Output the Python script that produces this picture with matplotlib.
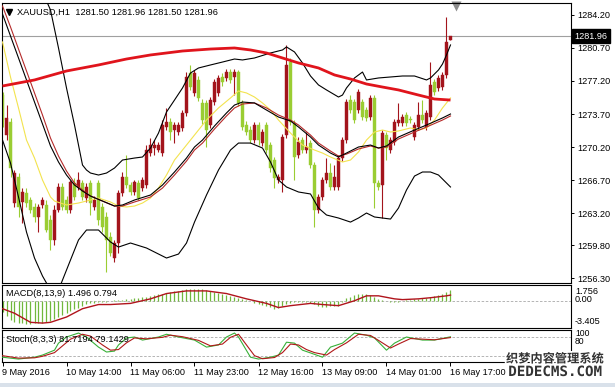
import matplotlib
matplotlib.use('Agg')
import matplotlib.pyplot as plt
import matplotlib.patheffects as pe
from matplotlib.patches import Rectangle
from matplotlib.transforms import blended_transform_factory
import numpy as np

plt.rcParams['font.family'] = ['Liberation Sans', 'DejaVu Sans']

# ---------------- data ----------------
title_text = "XAUUSD,H1  1281.50 1281.96 1281.50 1281.96"
macd_text = "MACD(8,13,9) 1.496 0.794"
stoch_text = "Stoch(8,3,3) 81.7194 79.1429"
date_labels = ["9 May 2016", "10 May 14:00", "11 May 06:00", "11 May 23:00",
               "12 May 16:00", "13 May 09:00", "14 May 01:00", "16 May 17:00"]
date_bars = [0, 16, 32, 48, 64, 80, 96, 112]
price_ticks = [1284.20, 1280.70, 1277.20, 1273.70, 1270.20, 1266.70, 1263.20, 1259.80, 1256.30]
last_price = 1281.96
macd_scale_labels = ["1.756", "0.00", "-3.405"]
stoch_levels = [80, 20]
stoch_scale_labels = ["100", "80"]

opens = [1275.71, 1271.47, 1272.85, 1264.26, 1267.02, 1264.37, 1265.32, 1264.58, 1263.84, 1262.78,
         1264.05, 1264.05, 1262.46, 1260.34, 1263.52, 1265.96, 1264.58, 1263.52, 1266.38, 1265.96,
         1266.38, 1264.79, 1266.38, 1263.84, 1266.38, 1263.84, 1262.78, 1260.66, 1258.43, 1260.02,
         1265.32, 1267.02, 1266.17, 1265.43, 1266.38, 1265.85, 1266.17, 1269.56, 1270.09, 1269.88,
         1269.56, 1272.32, 1272.85, 1272.00, 1271.79, 1272.22, 1273.81, 1278.05, 1275.93, 1277.31,
         1274.87, 1274.87, 1272.53, 1274.97, 1275.93, 1277.62, 1277.52, 1278.15, 1277.62, 1278.15,
         1274.87, 1272.53, 1272.00, 1270.94, 1272.53, 1270.62, 1272.53, 1270.41, 1268.82, 1266.70,
         1266.70, 1271.47, 1279.21, 1272.75, 1269.35, 1270.94, 1269.88, 1270.62, 1268.29, 1263.52,
         1264.90, 1266.70, 1267.44, 1265.96, 1265.96, 1269.03, 1270.94, 1275.18, 1274.97, 1274.12,
         1274.97, 1274.12, 1273.38, 1275.40, 1266.38, 1266.17, 1271.47, 1269.88, 1270.73, 1272.75,
         1272.75, 1273.59, 1273.17, 1271.26, 1272.32, 1273.59, 1272.32, 1273.38, 1277.09, 1276.46,
         1276.56, 1277.84, 1281.50]
highs = [1276.03, 1274.65, 1273.28, 1267.76, 1267.44, 1265.85, 1265.85, 1264.90, 1264.26, 1264.16,
         1264.90, 1264.58, 1262.99, 1264.05, 1266.38, 1266.38, 1265.00, 1266.70, 1266.91, 1267.55,
         1266.70, 1266.38, 1266.70, 1265.00, 1266.70, 1264.26, 1263.31, 1261.18, 1260.34, 1265.64,
         1267.55, 1269.35, 1266.49, 1266.70, 1266.70, 1267.02, 1270.41, 1271.15, 1270.94, 1270.73,
         1273.06, 1274.34, 1273.28, 1272.85, 1272.85, 1274.12, 1278.15, 1278.90, 1278.37, 1277.73,
         1275.29, 1275.18, 1275.50, 1277.41, 1277.84, 1278.05, 1278.47, 1278.47, 1278.47, 1278.37,
         1275.18, 1272.96, 1272.43, 1272.85, 1272.85, 1272.11, 1272.85, 1270.73, 1269.14, 1267.34,
         1271.58, 1281.02, 1279.64, 1273.06, 1271.26, 1271.26, 1271.79, 1270.94, 1268.61, 1265.22,
         1267.02, 1269.03, 1268.50, 1268.29, 1269.35, 1271.26, 1275.29, 1275.71, 1275.29, 1276.35,
         1275.29, 1274.44, 1275.71, 1275.71, 1266.70, 1272.00, 1271.79, 1271.26, 1273.17, 1274.87,
         1273.70, 1273.91, 1273.49, 1272.85, 1274.97, 1275.18, 1274.12, 1279.21, 1277.41, 1277.84,
         1278.15, 1283.99, 1281.96]
lows = [1272.32, 1270.94, 1267.02, 1263.84, 1262.78, 1262.14, 1263.84, 1263.20, 1262.24, 1261.18,
        1263.73, 1261.18, 1259.28, 1259.81, 1263.31, 1263.52, 1263.20, 1263.20, 1264.58, 1265.64,
        1264.58, 1264.37, 1262.99, 1263.52, 1261.93, 1261.18, 1256.95, 1258.64, 1258.00, 1258.96,
        1265.00, 1265.85, 1265.11, 1265.11, 1264.58, 1265.53, 1265.85, 1269.24, 1269.35, 1269.67,
        1269.24, 1272.00, 1270.94, 1270.62, 1271.47, 1271.90, 1273.49, 1276.25, 1275.61, 1275.08,
        1272.64, 1270.20, 1272.22, 1274.65, 1275.61, 1276.67, 1277.20, 1276.99, 1275.71, 1274.55,
        1272.00, 1271.47, 1270.62, 1270.62, 1270.41, 1270.31, 1269.56, 1267.55, 1265.85, 1266.38,
        1265.43, 1271.15, 1272.53, 1266.70, 1269.03, 1269.56, 1269.56, 1267.97, 1261.72, 1263.20,
        1264.58, 1266.38, 1265.64, 1265.64, 1265.64, 1268.71, 1270.62, 1273.81, 1272.75, 1273.81,
        1273.06, 1272.96, 1273.06, 1263.73, 1265.64, 1262.67, 1268.82, 1269.56, 1270.41, 1272.43,
        1272.43, 1272.43, 1272.75, 1270.94, 1272.00, 1272.75, 1272.00, 1273.06, 1275.71, 1276.14,
        1276.25, 1277.52, 1281.50]
closes = [1273.06, 1273.28, 1267.97, 1267.44, 1263.84, 1265.43, 1264.26, 1263.52, 1262.78, 1263.84,
          1264.58, 1261.40, 1260.34, 1263.52, 1265.96, 1263.84, 1263.52, 1266.49, 1264.90, 1266.70,
          1264.90, 1265.96, 1264.26, 1264.58, 1262.46, 1261.72, 1260.34, 1258.96, 1260.02, 1265.32,
          1267.02, 1266.17, 1265.43, 1266.49, 1264.79, 1266.70, 1269.88, 1270.41, 1270.41, 1270.41,
          1272.53, 1272.85, 1271.79, 1272.53, 1272.53, 1273.81, 1277.62, 1276.56, 1278.05, 1275.40,
          1273.06, 1272.00, 1275.18, 1277.09, 1277.52, 1277.09, 1278.15, 1277.31, 1278.15, 1274.87,
          1272.32, 1271.79, 1270.94, 1272.53, 1270.94, 1271.79, 1269.88, 1267.97, 1266.91, 1267.02,
          1271.26, 1278.90, 1272.85, 1269.14, 1270.73, 1269.88, 1270.20, 1268.29, 1263.52, 1264.90,
          1266.70, 1267.44, 1265.96, 1267.02, 1269.03, 1270.94, 1274.97, 1274.12, 1273.06, 1276.03,
          1273.38, 1273.28, 1275.40, 1266.38, 1265.96, 1271.68, 1270.09, 1270.94, 1272.85, 1273.06,
          1273.38, 1272.75, 1273.06, 1272.53, 1273.59, 1273.06, 1273.81, 1276.78, 1276.03, 1277.52,
          1277.84, 1281.34, 1281.96]

# thick red moving average
ma_idx = [0, 8, 16, 24, 31, 37, 45, 52, 58, 62, 66, 70, 74, 79, 83, 87, 91, 95, 99, 104, 108, 112]
ma_val = [1276.67, 1277.31, 1278.26, 1278.90, 1279.53, 1279.96, 1280.38, 1280.59, 1280.70, 1280.49,
          1280.17, 1279.64, 1279.11, 1278.58, 1277.84, 1277.41, 1276.88, 1276.56, 1276.25, 1275.71,
          1275.29, 1275.18]

# Bollinger upper band
ub_idx = [10, 12, 14, 16, 18, 19, 20, 21, 22, 24, 26, 28, 30, 33, 35, 37, 39, 41, 43, 45, 47, 49,
          52, 55, 58, 60, 63, 67, 70, 71, 73, 75, 77, 79, 81, 84, 85, 86, 88, 90, 91, 94, 100, 103,
          106, 107, 109, 110, 111, 112]
ub_val = [1286.64, 1284.73, 1280.70, 1276.46, 1272.53, 1270.41, 1268.29, 1267.76, 1267.44, 1267.23,
          1267.44, 1267.97, 1268.82, 1269.03, 1269.14, 1270.09, 1271.68, 1273.91, 1275.18, 1276.46,
          1278.05, 1278.58, 1278.90, 1279.21, 1279.53, 1279.43, 1279.64, 1280.17, 1280.49, 1280.81,
          1280.28, 1279.11, 1277.73, 1276.78, 1276.25, 1275.50, 1275.71, 1276.46, 1277.52, 1278.15,
          1277.31, 1277.52, 1277.73, 1277.73, 1277.31, 1277.52, 1278.37, 1279.00, 1279.96, 1281.02]

# Bollinger lower band
lb_idx = [0, 2, 4, 6, 8, 10, 12, 13, 14, 15, 17, 19, 21, 24, 27, 29, 32, 36, 40, 41, 44, 46, 48,
          51, 54, 57, 59, 62, 65, 67, 69, 71, 74, 77, 79, 81, 84, 87, 89, 91, 93, 97, 99, 101, 103,
          105, 107, 109, 112]
lb_val = [1270.94, 1268.50, 1264.90, 1261.18, 1258.43, 1256.52, 1255.03, 1254.50, 1255.03, 1256.09,
          1258.22, 1260.34, 1261.40, 1261.40, 1260.13, 1259.59, 1260.02, 1259.49, 1258.64, 1258.43,
          1258.85, 1260.02, 1262.24, 1265.11, 1267.76, 1269.88, 1270.62, 1270.62, 1270.09, 1268.61,
          1266.70, 1265.96, 1265.43, 1265.22, 1263.73, 1262.99, 1262.67, 1262.24, 1262.67, 1263.20,
          1262.78, 1262.56, 1263.73, 1265.64, 1267.12, 1267.55, 1267.55, 1267.23, 1265.96]

# Bollinger middle band (black) and thin red average beside it
mb_idx = [0, 2, 4, 6, 8, 10, 12, 14, 16, 18, 20, 22, 25, 28, 30, 33, 37, 40, 43, 46, 48, 50, 53,
          56, 58, 60, 63, 66, 69, 72, 74, 77, 79, 82, 84, 86, 89, 92, 94, 96, 99, 103, 106, 110, 112]
mb_val = [1284.30, 1281.97, 1279.64, 1277.31, 1274.97, 1272.64, 1270.31, 1268.61, 1267.23, 1266.17,
          1265.53, 1265.00, 1264.47, 1263.94, 1264.05, 1264.58, 1265.11, 1266.17, 1267.55, 1269.03,
          1270.20, 1270.94, 1272.43, 1273.81, 1274.65, 1274.97, 1274.87, 1274.12, 1273.38, 1272.96,
          1272.32, 1271.26, 1270.41, 1269.56, 1269.14, 1269.56, 1270.20, 1270.41, 1270.09, 1270.31,
          1271.26, 1272.00, 1272.53, 1273.28, 1273.70]
rt_val = [1285.15, 1282.93, 1280.59, 1278.26, 1275.93, 1273.59, 1271.15, 1269.24, 1267.65, 1266.38,
          1265.64, 1265.00, 1264.47, 1263.94, 1263.94, 1264.37, 1264.90, 1265.85, 1267.23, 1268.71,
          1269.88, 1270.62, 1272.11, 1273.49, 1274.34, 1274.76, 1274.87, 1274.34, 1273.59, 1273.06,
          1272.53, 1271.47, 1270.62, 1269.77, 1269.24, 1269.45, 1269.99, 1270.31, 1270.09, 1270.20,
          1271.05, 1271.79, 1272.32, 1273.06, 1273.49]

# yellow fast average
yl_idx = [0, 2, 4, 6, 8, 10, 12, 13, 16, 19, 22, 24, 27, 29, 31, 33, 35, 37, 39, 41, 43, 45, 47,
          49, 51, 54, 57, 59, 61, 63, 65, 67, 69, 72, 75, 78, 80, 82, 85, 87, 89, 91, 93, 95, 97,
          99, 102, 104, 106, 108, 110, 112]
yl_val = [1281.34, 1277.62, 1274.34, 1270.94, 1269.03, 1266.70, 1264.90, 1264.47, 1264.05, 1264.26,
          1264.58, 1264.79, 1264.37, 1263.94, 1263.84, 1263.94, 1264.26, 1264.79, 1265.85, 1267.23,
          1268.82, 1269.88, 1270.94, 1272.00, 1273.06, 1274.34, 1275.40, 1276.14, 1275.93, 1275.50,
          1274.87, 1274.12, 1273.06, 1271.68, 1270.41, 1269.88, 1269.56, 1269.14, 1268.61, 1268.82,
          1269.67, 1270.94, 1271.79, 1272.00, 1271.79, 1271.90, 1272.22, 1272.00, 1272.22, 1273.06,
          1274.34, 1275.40]

# MACD histogram (one per bar) and signal line
macd_hist = [-1.5, -2.0, -2.5, -2.7, -2.9, -2.95, -3.0, -3.0, -2.95, -2.9,
             -2.85, -2.8, -2.6, -2.4, -2.15, -1.85, -1.55, -1.3, -1.05, -0.85,
             -0.6, -0.4, -0.3, -0.2, -0.15, -0.1, -0.05, 0.05, 0.1, 0.15,
             0.2, 0.25, 0.3, 0.4, 0.45, 0.55, 0.6, 0.7, 0.8, 0.9,
             1.0, 1.1, 1.2, 1.3, 1.4, 1.5, 1.55, 1.6, 1.62, 1.6,
             1.55, 1.5, 1.4, 1.25, 1.1, 0.95, 0.85, 0.7, 0.6, 0.45,
             0.3, 0.2, 0.0, -0.2, -0.35, -0.5, -0.6, -0.8, -1.0, -0.9,
             -0.6, -0.35, -0.2, -0.15, -0.1, -0.1, -0.15, -0.25, -0.35, -0.6,
             -0.8, -0.75, -0.7, -0.65, -0.6, -0.1, 0.4, 0.6, 0.8, 0.9,
             1.0, 0.9, 0.8, 0.55, 0.3, 0.15, 0.0, -0.05, -0.1, -0.05,
             0.0, 0.1, 0.2, 0.25, 0.3, 0.35, 0.4, 0.55, 0.7, 0.85,
             1.0, 1.25, 1.496]
sig_idx = [0, 3, 7, 10, 12, 16, 20, 24, 27, 32, 37, 41, 46, 51, 56, 61, 66, 69, 72, 77, 80, 84,
           88, 91, 94, 98, 100, 104, 107, 111, 112]
sig_val = [-1.0, -1.6, -2.8, -2.9, -2.8, -2.1, -1.0, -0.45, -0.45, -0.3, 0.3, 1.0, 1.35, 1.35, 1.0,
           0.3, -0.3, -0.85, -0.6, -0.3, -0.45, -0.6, 0.05, 0.7, 0.7, 0.3, 0.2, 0.3, 0.45, 0.7, 0.794]

# Stochastic main (green) and signal (red)
st_idx = [0, 4, 8, 10, 13, 14, 16, 19, 21, 24, 26, 28, 29, 31, 33, 35, 39, 41, 44, 48, 51, 54, 56,
          58, 59, 62, 64, 67, 69, 71, 73, 75, 77, 80, 82, 85, 88, 91, 93, 96, 98, 101, 105, 108, 112]
st_main = [15, 9, 15, 22, 38, 61, 81, 94, 81, 48, 32, 35, 55, 78, 81, 71, 81, 90, 81, 71, 48, 55, 81,
           94, 81, 15, 9, 15, 22, 64, 61, 38, 29, 15, 48, 61, 94, 87, 78, 38, 61, 81, 71, 71, 81.72]
ss_idx = [0, 4, 8, 10, 13, 15, 17, 20, 22, 25, 27, 29, 31, 33, 36, 40, 42, 45, 49, 52, 55, 57, 59,
          61, 63, 65, 68, 70, 72, 74, 76, 78, 81, 83, 86, 89, 92, 94, 97, 99, 102, 105, 108, 112]
ss_val = [20, 12, 13, 18, 30, 52, 74, 90, 84, 55, 38, 40, 62, 78, 75, 80, 87, 82, 70, 52, 58, 80, 90,
          55, 20, 10, 14, 30, 58, 55, 40, 30, 22, 40, 62, 90, 86, 70, 45, 58, 76, 74, 72, 79.14]

# ---------------- drawing ----------------
W, H = 615, 387
fig = plt.figure(figsize=(W / 100, H / 100), dpi=100, facecolor='white')


def rect(x0, y0, x1, y1):
    return [x0 / W, 1 - y1 / H, (x1 - x0) / W, (y1 - y0) / H]


ax = fig.add_axes(rect(2, 3, 571, 283))
axm = fig.add_axes(rect(2, 285, 571, 328))
axs = fig.add_axes(rect(2, 330, 571, 362))

XL = (-0.125, 142.125)
FS = 6.6
BULL = '#a3141c'
BEAR = '#9acd32'

for a in (ax, axm, axs):
    a.set_xlim(*XL)
    for s in a.spines.values():
        s.set_linewidth(0.8)
        s.set_color('black')
    a.tick_params(axis='both', labelsize=FS, colors='black', width=0.7)

ax.set_ylim(1255.78, 1285.47)
axm.set_ylim(-3.55, 2.13)
axs.set_ylim(-0.65, 103.9)

# candles
n = len(closes)
xs = np.arange(n)
for i in range(n):
    o, h, l, c = opens[i], highs[i], lows[i], closes[i]
    col = BULL if c >= o else BEAR
    ax.vlines(i, l, h, color=col, lw=0.8, zorder=2)
    ax.add_patch(Rectangle((i - 0.36, min(o, c)), 0.72, max(abs(c - o), 0.07),
                           facecolor=col, edgecolor=col, lw=0.3, zorder=2))

# indicator lines
ax.plot(yl_idx, yl_val, color='#f3e34e', lw=0.8, zorder=3)
ax.plot(mb_idx, rt_val, color='#b52a2a', lw=0.8, zorder=3)
ax.plot(mb_idx, mb_val, color='black', lw=0.8, zorder=3)
ax.plot(ub_idx, ub_val, color='black', lw=0.8, zorder=3)
ax.plot(lb_idx, lb_val, color='black', lw=0.8, zorder=3)
ax.plot(ma_idx, ma_val, color='#e0141c', lw=2.0, zorder=4, solid_capstyle='butt')

# current price line
ax.axhline(last_price, color='#a0a0a0', lw=0.8, zorder=1)

# price axis on right
ax.yaxis.tick_right()
ax.set_yticks(price_ticks)
ax.set_yticklabels(['%.2f' % v for v in price_ticks])
ax.tick_params(axis='y', length=2.5, pad=2)
ax.set_xticks([])

# current price label box
tr = blended_transform_factory(fig.transFigure, ax.transData)
fig.text(574.5 / W, last_price, '%.2f' % last_price, transform=tr, color='white', fontsize=FS,
         va='center', ha='left',
         bbox=dict(boxstyle='square,pad=0.3', fc='black', ec='black'))

# title & markers
fig.text(17 / W, 1 - 12 / H, title_text, fontsize=6.7, va='center', ha='left', color='black')
ax.plot([8.5 / W], [1 - 12 / H], marker='v', ms=4.8, color='black', transform=fig.transFigure,
        clip_on=False, linestyle='none')
ax.plot([456 / W], [1 - 5.5 / H], marker='v', ms=6.5, color='#8c8c8c', transform=fig.transFigure,
        clip_on=False, linestyle='none', mec='none')

# MACD panel
axm.vlines(xs, 0, macd_hist, color='#70b83c', lw=0.9, zorder=2)
axm.plot(sig_idx, sig_val, color='#b0141c', lw=1.0, zorder=3)
axm.axhline(0, color='#a8a8a8', lw=0.6, dashes=(3, 2), zorder=1)
axm.set_xticks([])
axm.set_yticks([])
for lab, ypix in zip(macd_scale_labels, [292, 300, 322]):
    fig.text(575 / W, 1 - ypix / H, lab, fontsize=FS, va='center', ha='left', color='black')
fig.text(6.5 / W, 1 - 294 / H, macd_text, fontsize=6.7, va='center', ha='left', color='black')

# Stochastic panel
for lv in stoch_levels:
    axs.axhline(lv, color='#a8a8a8', lw=0.6, dashes=(3, 2), zorder=1)
axs.plot(st_idx, st_main, color='#38b038', lw=0.8, zorder=3)
axs.plot(ss_idx, ss_val, color='#b01818', lw=0.8, zorder=3)
axs.set_yticks([])
axs.set_xticks(date_bars)
axs.set_xticklabels(date_labels, ha='left')
axs.tick_params(axis='x', length=3, pad=1.5)
for lab, ypix in zip(stoch_scale_labels, [333.5, 342]):
    fig.text(575 / W, 1 - ypix / H, lab, fontsize=6.2, va='center', ha='left', color='black')
fig.text(6.5 / W, 1 - 340 / H, stoch_text, fontsize=6.7, va='center', ha='left', color='black')

# bottom strip
fig.patches.append(Rectangle((0, 0), 1, 4 / H, transform=fig.transFigure, facecolor='#d9e1ea',
                             edgecolor='none', zorder=0))

# watermark
fig.text(555 / W, 1 - 359 / H, "织梦内容管理系统", family=['Noto Sans CJK SC', 'DejaVu Sans'],
         fontsize=8.8, weight='bold', color='#333333', ha='center', va='center',
         path_effects=[pe.withStroke(linewidth=2.5, foreground='white')], zorder=10)
fig.text(555 / W, 1 - 372 / H, "DEDECMS.COM", family=['DejaVu Sans Mono'], fontsize=10.2,
         weight='bold', color='#333333', ha='center', va='center',
         path_effects=[pe.withStroke(linewidth=2.5, foreground='white')], zorder=10)

fig.savefig('out.png', dpi=100, facecolor='white')
